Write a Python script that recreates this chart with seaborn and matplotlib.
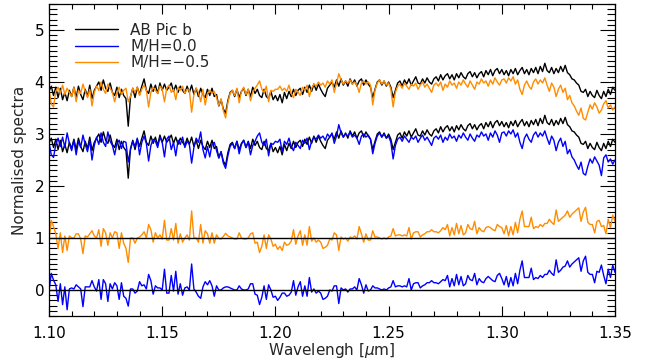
import numpy as np
import pandas as pd
import matplotlib
matplotlib.use("Agg")
import matplotlib.pyplot as plt
from matplotlib.ticker import MultipleLocator
import seaborn as sns

# wavelength sampling of the spectra (micron)
wl = np.linspace(1.10, 1.35, 251)

# AB Pic b observed spectrum (upper copy, the lower copy is shifted by -1)
obs = [3.82, 3.92, 3.74, 3.90, 3.70, 3.88, 3.66, 3.80, 3.64, 3.84, 3.72,
       3.90, 3.70, 3.92, 3.76, 3.66, 3.86, 3.72, 3.94, 3.68, 3.84,
       3.92, 4.00, 3.84, 4.04, 3.88, 3.82, 3.98, 3.80, 3.74, 3.90,
       3.70, 3.86, 3.74, 3.68, 3.15, 3.72, 3.88, 3.70, 3.90, 3.76,
       3.92, 4.06, 3.84, 3.78, 3.96, 3.82, 3.94, 3.78, 3.98, 3.84,
       3.96, 3.84, 3.90, 3.98, 3.82, 3.94, 3.80, 3.92, 3.84, 3.78,
       3.92, 3.80, 3.94, 3.76, 3.88, 3.72, 3.88, 3.76, 3.70, 3.86,
       3.74, 3.88, 3.72, 3.76, 3.54, 3.66, 3.48, 3.40, 3.64, 3.80,
       3.84, 3.72, 3.86, 3.70, 3.82, 3.88, 3.74, 3.86, 3.72, 3.90,
       3.78, 3.86, 3.74, 3.70, 3.86, 3.72, 3.68, 3.82, 3.66, 3.74,
       3.64, 3.76, 3.60, 3.80, 3.68, 3.82, 3.72, 3.86, 3.74, 3.84,
       3.88, 3.76, 3.90, 3.80, 3.94, 3.82, 3.96, 3.84, 3.96, 3.86,
       3.78, 3.72, 3.88, 3.94, 4.00, 3.90, 4.04, 3.92, 4.06, 3.94,
       4.02, 3.92, 4.06, 3.96, 4.04, 3.92, 4.02, 4.06, 3.94, 4.04,
       3.96, 3.90, 3.70, 3.86, 4.00, 4.04, 3.94, 4.02, 3.92, 4.00,
       3.90, 3.70, 3.84, 3.98, 4.02, 3.92, 4.04, 3.96, 4.06, 3.94,
       4.02, 4.10, 3.98, 3.96, 4.06, 3.98, 4.08, 4.00, 3.96, 4.06,
       4.10, 4.02, 4.14, 4.04, 4.12, 4.16, 4.06, 4.14, 4.04, 4.16,
       4.08, 4.18, 4.10, 4.06, 4.16, 4.20, 4.10, 4.18, 4.08, 4.16,
       4.20, 4.10, 4.22, 4.14, 4.24, 4.12, 4.22, 4.26, 4.16, 4.24,
       4.14, 4.22, 4.12, 4.24, 4.16, 4.26, 4.14, 4.22, 4.28, 4.16,
       4.24, 4.14, 4.26, 4.18, 4.28, 4.16, 4.30, 4.20, 4.36, 4.22,
       4.18, 4.28, 4.16, 4.26, 4.18, 4.30, 4.20, 4.32, 4.18, 4.14,
       4.06, 4.04, 3.98, 3.94, 3.82, 3.80, 3.86, 3.72, 3.82, 3.74,
       3.70, 3.84, 3.74, 3.68, 3.82, 3.72, 3.86, 3.76, 3.90, 3.84]

# model M/H=-0.5 (plotted on the upper copy)
m05 = [3.86, 3.58, 3.52, 3.82, 3.90, 3.78, 3.94, 3.76, 3.88, 3.80, 3.72,
       3.90, 3.62, 3.84, 3.78, 3.96, 3.82, 3.70, 3.86, 3.54, 3.80,
       3.92, 3.84, 4.00, 3.86, 3.78, 3.96, 3.88, 3.80, 3.62, 3.80,
       3.90, 3.76, 3.84, 3.88, 3.62, 3.72, 3.88, 3.80, 3.90, 3.74,
       3.86, 3.94, 3.84, 3.52, 3.80, 3.90, 3.84, 3.78, 3.92, 3.86,
       3.62, 3.88, 3.94, 3.80, 3.86, 3.66, 3.90, 3.84, 3.92, 3.78,
       3.86, 3.84, 3.42, 3.76, 3.88, 3.80, 3.62, 3.86, 3.56, 3.78,
       3.84, 3.78, 3.82, 3.70, 3.55, 3.68, 3.45, 3.31, 3.60, 3.78,
       3.84, 3.74, 3.88, 3.60, 3.82, 3.90, 3.76, 3.86, 3.64, 3.80,
       3.88, 3.94, 4.02, 3.86, 3.80, 3.92, 3.62, 3.84, 3.82, 3.86,
       3.86, 3.92, 3.84, 3.88, 3.82, 3.94, 3.78, 3.70, 3.86, 3.80,
       3.74, 3.90, 3.84, 3.94, 3.72, 3.88, 3.96, 3.92, 4.00, 3.94,
       3.98, 3.90, 4.02, 3.96, 4.04, 3.80, 3.98, 4.16, 4.04, 3.96,
       4.02, 3.98, 4.04, 3.96, 4.00, 3.94, 3.80, 3.98, 4.02, 3.96,
       4.00, 3.94, 3.56, 3.84, 3.98, 4.04, 3.96, 4.02, 3.94, 3.98,
       3.86, 3.52, 3.80, 3.92, 3.96, 3.88, 3.98, 3.92, 3.86, 3.96,
       3.92, 3.98, 3.86, 3.94, 4.00, 3.90, 3.96, 3.88, 3.80, 3.94,
       3.98, 3.92, 4.00, 3.84, 3.96, 3.90, 4.02, 3.94, 3.98, 3.88,
       4.00, 3.94, 4.04, 3.96, 3.90, 4.02, 3.94, 3.86, 4.00, 3.96,
       4.06, 3.98, 4.02, 3.92, 4.04, 3.96, 4.08, 4.00, 3.94, 4.04,
       4.06, 3.98, 4.08, 4.02, 4.10, 3.96, 4.04, 3.86, 3.76, 3.94,
       4.02, 3.92, 3.86, 4.00, 4.06, 3.96, 4.04, 3.98, 4.08, 3.94,
       3.82, 3.98, 3.90, 3.72, 3.86, 3.94, 3.80, 3.88, 3.66, 3.74,
       3.60, 3.54, 3.44, 3.36, 3.50, 3.30, 3.27, 3.42, 3.56, 3.48,
       3.60, 3.52, 3.40, 3.46, 3.58, 3.64, 3.50, 3.56, 3.46, 3.52]

# model M/H=0.0 (plotted on the lower copy)
m00 = [2.84, 2.60, 2.55, 2.80, 2.92, 2.76, 2.94, 2.74, 3.02, 2.82, 2.68,
       2.88, 2.60, 2.86, 2.74, 2.98, 2.80, 2.66, 2.88, 2.50, 2.78,
       2.94, 2.80, 3.02, 2.84, 2.76, 3.04, 2.86, 2.78, 2.60, 2.82,
       2.88, 2.72, 2.86, 2.84, 2.46, 2.70, 2.86, 2.76, 2.92, 2.60,
       2.84, 2.96, 2.82, 2.48, 2.78, 2.90, 2.86, 2.74, 2.94, 2.84,
       2.56, 2.90, 2.96, 2.70, 2.84, 2.58, 2.88, 2.80, 2.94, 2.74,
       2.86, 2.80, 2.44, 2.74, 2.92, 2.84, 3.04, 2.70, 2.54, 2.76,
       2.56, 2.80, 2.84, 2.68, 2.54, 2.66, 2.44, 2.34, 2.58, 2.76,
       2.82, 2.72, 2.86, 2.62, 2.80, 2.88, 2.74, 2.84, 2.60, 2.78,
       2.86, 2.96, 3.02, 2.84, 2.78, 2.90, 2.58, 2.82, 2.80, 2.86,
       2.84, 2.90, 2.66, 2.86, 2.80, 2.92, 2.76, 2.68, 2.84, 2.78,
       2.72, 2.88, 2.82, 2.92, 2.70, 2.86, 2.94, 2.90, 2.98, 2.92,
       2.96, 2.88, 3.00, 2.94, 3.02, 2.82, 2.96, 3.18, 3.02, 2.94,
       3.00, 2.96, 3.04, 2.94, 2.98, 2.92, 2.80, 2.96, 3.00, 2.94,
       2.98, 2.90, 2.62, 2.82, 2.96, 3.02, 2.94, 3.00, 2.92, 2.96,
       2.84, 2.52, 2.78, 2.90, 2.94, 2.86, 2.96, 2.90, 2.84, 2.94,
       2.90, 2.96, 2.84, 2.92, 2.98, 2.88, 2.94, 2.86, 2.78, 2.92,
       2.96, 2.90, 2.98, 2.84, 2.94, 2.88, 3.00, 2.92, 2.96, 2.86,
       2.98, 2.92, 3.02, 2.94, 2.88, 3.00, 2.92, 2.86, 2.98, 2.94,
       3.04, 2.96, 3.00, 2.88, 3.02, 2.94, 3.06, 2.98, 2.84, 3.02,
       3.04, 2.96, 3.06, 3.00, 3.08, 2.94, 3.02, 2.84, 2.72, 2.92,
       3.00, 2.90, 2.84, 2.98, 3.04, 2.94, 3.02, 2.96, 3.06, 2.92,
       2.80, 2.96, 2.88, 2.68, 2.84, 2.92, 2.76, 2.86, 2.62, 2.70,
       2.56, 2.50, 2.40, 2.32, 2.46, 2.24, 2.21, 2.38, 2.52, 2.44,
       2.56, 2.48, 2.40, 2.20, 2.54, 2.60, 2.46, 2.52, 2.42, 2.50]

offset = 1.0
obs = np.array(obs)
m05 = np.array(m05)
m00 = np.array(m00)

df = pd.DataFrame({
    "wl": wl,
    "obs_up": obs,
    "m05": m05,
    "obs_low": obs - offset,
    "m00": m00,
    "res05": obs - m05 + offset,
    "res00": (obs - offset) - m00,
})

sns.set_style("ticks")
plt.rcParams["font.family"] = ["DejaVu Sans"]
plt.rcParams["font.size"] = 11

fig = plt.figure(figsize=(6.6, 3.62), dpi=100)
ax = fig.add_axes([49 / 660, 1 - 316 / 362, 566 / 660, 312 / 362])

blue = "#0000ff"
orange = "#ff8c00"
kw = dict(ax=ax, estimator=None, sort=False, lw=1.0)

sns.lineplot(data=df, x="wl", y="obs_up", color="black", label="AB Pic b", **kw)
sns.lineplot(data=df, x="wl", y="m05", color=orange, label="M/H=\u22120.5", **kw)
sns.lineplot(data=df, x="wl", y="obs_low", color="black", **kw)
sns.lineplot(data=df, x="wl", y="m00", color=blue, label="M/H=0.0", **kw)
sns.lineplot(data=df, x="wl", y="res05", color=orange, **kw)
sns.lineplot(data=df, x="wl", y="res00", color=blue, **kw)
ax.axhline(1.0, color="black", lw=1.0)
ax.axhline(0.0, color="black", lw=1.0)

ax.set_xlim(1.10, 1.35)
ax.set_ylim(-0.5, 5.5)
ax.set_xticks([1.10, 1.15, 1.20, 1.25, 1.30, 1.35])
ax.set_xticklabels(["1.10", "1.15", "1.20", "1.25", "1.30", "1.35"])
ax.set_yticks([0, 1, 2, 3, 4, 5])
ax.xaxis.set_minor_locator(MultipleLocator(0.01))
ax.yaxis.set_minor_locator(MultipleLocator(0.1))
ax.tick_params(which="both", direction="in", top=True, right=True,
               width=0.8, colors="black", labelsize=11)
ax.tick_params(axis="x", which="major", length=7, pad=7)
ax.tick_params(axis="x", which="minor", length=3.5)
ax.tick_params(axis="y", which="major", length=11, pad=3.5)
ax.tick_params(axis="y", which="minor", length=5.5)
for s in ax.spines.values():
    s.set_visible(True)
    s.set_linewidth(0.9)
    s.set_color("black")

ax.set_xlabel(r"Wavelengh [$\mu$m]", fontsize=11, labelpad=0)
ax.set_ylabel("Normalised spectra", fontsize=11, labelpad=5.5)

h, l = ax.get_legend_handles_labels()
order = [l.index("AB Pic b"), l.index("M/H=0.0"), l.index("M/H=\u22120.5")]
ax.legend([h[i] for i in order], [l[i] for i in order], loc="upper left",
          bbox_to_anchor=(0.046, 0.94), frameon=False, fontsize=11,
          borderpad=0, borderaxespad=0, handlelength=2.8,
          handletextpad=0.8, labelspacing=0.08)

fig.savefig("out.png", dpi=100)
